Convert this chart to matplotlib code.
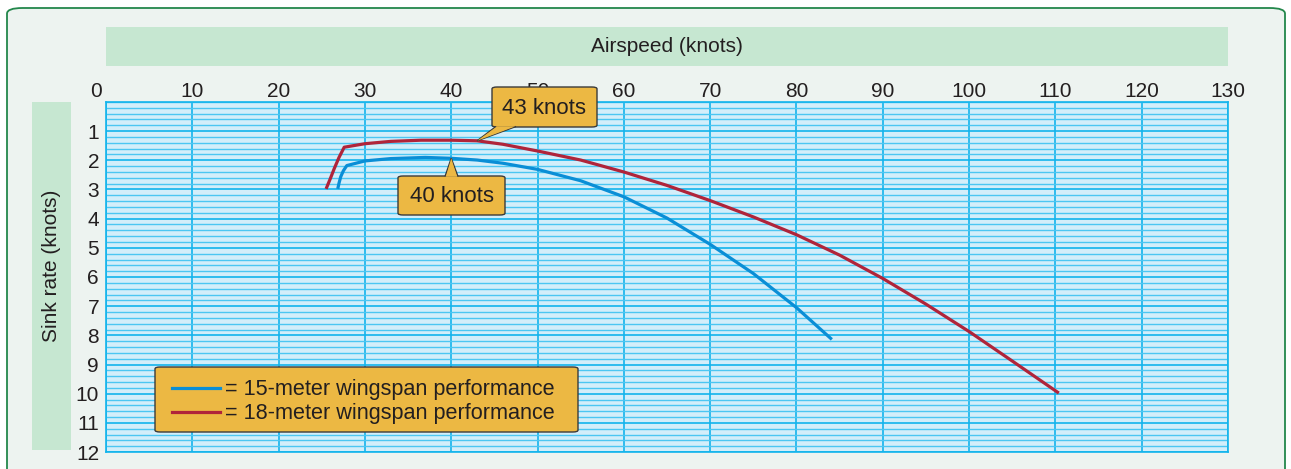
import matplotlib.pyplot as plt
from matplotlib.patches import FancyBboxPatch, Rectangle, Polygon
from matplotlib.ticker import MultipleLocator

plt.rcParams["font.family"] = ["Liberation Sans", "DejaVu Sans"]

# data
red_speed = [25.5, 26.0, 26.45, 27.0, 27.6, 30, 33, 36.5, 40, 43, 46, 50, 55,
             60, 65, 70, 75, 80, 85, 90, 95, 100, 105, 110.4]
red_sink = [2.98, 2.62, 2.28, 1.90, 1.55, 1.43, 1.35, 1.31, 1.31, 1.33, 1.45,
            1.68, 1.99, 2.40, 2.86, 3.38, 3.94, 4.55, 5.25, 6.05, 6.93, 7.87,
            8.88, 9.98]
blue_speed = [26.85, 27.0, 27.2, 27.5, 27.9, 30, 33, 37, 40, 43, 46, 50, 55,
              60, 65, 70, 75, 80, 84.1]
blue_sink = [2.98, 2.78, 2.56, 2.36, 2.18, 2.02, 1.94, 1.90, 1.93, 1.99, 2.10,
             2.31, 2.70, 3.25, 3.98, 4.88, 5.88, 7.05, 8.14]
x_ticks = list(range(0, 131, 10))
y_ticks = list(range(1, 13))
legend_labels = ["= 15-meter wingspan performance", "= 18-meter wingspan performance"]
callouts = [(43, 1.33, "43 knots"), (40, 1.93, "40 knots")]

W, H = 1291, 469
BLUE = "#0a8ed6"
RED = "#b0243a"
GRID = "#12b4ec"
GOLD = "#ecb843"
TEXT = "#231f20"
FS = 15


def fx(px):
    return px / W


def fy(py):
    return 1 - py / H


fig = plt.figure(figsize=(W / 100, H / 100), dpi=100)
fig.patch.set_facecolor("white")

# rounded frame and label strips sit behind the axes
fig.patches.append(FancyBboxPatch((fx(7), fy(480)), fx(1278), (480 - 8) / H,
                                  boxstyle="round,pad=0,rounding_size=0.012",
                                  transform=fig.transFigure, facecolor="#edf3f0",
                                  edgecolor="#23874b", linewidth=1.3, zorder=-2))
fig.patches.append(Rectangle((fx(106), fy(66)), fx(1122), 39 / H,
                             transform=fig.transFigure, facecolor="#c6e7d1",
                             edgecolor="none", zorder=-1))
fig.patches.append(Rectangle((fx(32), fy(450)), fx(39), 348 / H,
                             transform=fig.transFigure, facecolor="#c6e7d1",
                             edgecolor="none", zorder=-1))
fig.text(fx(667), fy(46), "Airspeed (knots)", ha="center", va="center",
         fontsize=FS, color=TEXT)
fig.text(fx(52), fy(266), "Sink rate (knots)", ha="center", va="center",
         rotation=90, fontsize=FS, color=TEXT)

ax = fig.add_axes([fx(106), fy(452), fx(1122), 350 / H])
ax.set_facecolor("#d3eefa")
ax.set_xlim(0, 130)
ax.set_ylim(12, 0)
ax.set_xticks(x_ticks)
ax.set_xticklabels([""] + [str(v) for v in x_ticks[1:]])
ax.set_yticks(y_ticks)
ax.yaxis.set_minor_locator(MultipleLocator(0.2))
ax.xaxis.tick_top()
ax.tick_params(axis="both", which="both", length=0, labelsize=FS,
               labelcolor=TEXT)
ax.tick_params(axis="x", pad=1)
ax.tick_params(axis="y", pad=5)
# the shared zero sits a little left of the corner
ax.annotate(str(x_ticks[0]), xy=(0, 0), xytext=(-7, 1), textcoords="offset points",
            ha="center", va="bottom", fontsize=FS, color=TEXT,
            annotation_clip=False)
ax.grid(True, axis="y", which="minor", color="#4cc6f2", linewidth=1.0)
ax.grid(True, axis="y", which="major", color=GRID, linewidth=1.2)
ax.grid(True, axis="x", which="major", color=GRID, linewidth=1.2)
for s in ax.spines.values():
    s.set_color(GRID)
    s.set_linewidth(1.2)

ax.plot(blue_speed, blue_sink, color=BLUE, linewidth=2.3, solid_capstyle="butt",
        solid_joinstyle="round", zorder=3)
ax.plot(red_speed, red_sink, color=RED, linewidth=2.3, solid_capstyle="butt",
        solid_joinstyle="round", zorder=3)

# callouts (boxes in pixel space, pointer to data point)
to_fig = fig.transFigure.inverted()


def callout(x, y, text, box, base):
    l, t, r, b = box
    px, py = ax.transData.transform((x, y))
    tip = to_fig.transform((px, py))
    fig.patches.append(FancyBboxPatch((fx(l), fy(b)), fx(r - l), (b - t) / H,
                                      boxstyle="round,pad=0,rounding_size=0.004",
                                      transform=fig.transFigure, facecolor=GOLD,
                                      edgecolor="#3a3a3a", linewidth=1.0, zorder=5))
    (x1, y1), (x2, y2) = base
    fig.patches.append(Polygon([(fx(x1), fy(y1)), tuple(tip), (fx(x2), fy(y2))],
                               closed=False, transform=fig.transFigure,
                               facecolor=GOLD, edgecolor="#3a3a3a",
                               linewidth=1.0, zorder=6))
    fig.patches.append(Polygon([(fx(x1 + 1), fy(y1)), tuple(tip), (fx(x2 - 1), fy(y2))],
                               closed=True, transform=fig.transFigure,
                               facecolor=GOLD, edgecolor="none", zorder=6))
    fig.text(fx((l + r) / 2), fy((t + b) / 2 + 1), text, ha="center", va="center",
             fontsize=16, color=TEXT, zorder=7)


x, y, t = callouts[0]
callout(x, y, t, (492, 87, 597, 127), ((496, 126.5), (516, 126.5)))
x, y, t = callouts[1]
callout(x, y, t, (398, 176, 505, 215), ((445, 176.5), (458, 176.5)))

# legend box
fig.patches.append(FancyBboxPatch((fx(155), fy(432)), fx(423), 65 / H,
                                  boxstyle="round,pad=0,rounding_size=0.004",
                                  transform=fig.transFigure, facecolor=GOLD,
                                  edgecolor="#3a3a3a", linewidth=1.0, zorder=5))
for (yy, col, lab) in [(388, BLUE, legend_labels[0]), (412, RED, legend_labels[1])]:
    fig.lines.append(plt.Line2D([fx(172), fx(220)], [fy(yy), fy(yy)],
                                transform=fig.transFigure, color=col,
                                linewidth=2.3, zorder=6))
    fig.text(fx(225), fy(yy + 1), lab, ha="left", va="center", fontsize=15.6,
             color=TEXT, zorder=7)

fig.savefig("out.png", dpi=100, facecolor="white")
